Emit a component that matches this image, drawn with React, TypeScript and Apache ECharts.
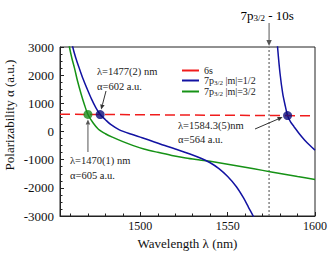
import React, { useEffect, useRef } from "react";
import * as echarts from "echarts";

// ---- data ----
const xMin = 1454;
const xMax = 1600;
const yMin = -3000;
const yMax = 3000;
const xLabelValues = [1500, 1550, 1600];
const xMinorTickValues = [1460, 1470, 1480, 1490, 1510, 1520, 1530, 1540, 1560, 1570, 1580, 1590];

const sixS: [number, number][] = [
  [1454, 612],
  [1600, 558],
];

const m12Left: [number, number][] = [
  [1459.5, 3600], [1461.3, 3000], [1463, 2620], [1465, 2250], [1467, 1900],
  [1469.5, 1520], [1472, 1160], [1474.5, 850], [1477, 602], [1480, 420],
  [1483, 250], [1488, 60], [1495, -100], [1501, -220], [1508, -370],
  [1514, -500], [1520, -620], [1528, -790], [1535, -960], [1540, -1110],
  [1545, -1320], [1550, -1600], [1555, -1960], [1559, -2350], [1562, -2700],
  [1565, -3050], [1566.5, -3300],
];

const m12Right: [number, number][] = [
  [1578, 3500], [1578.7, 2900], [1580, 2050], [1581.5, 1350], [1583, 900],
  [1584.3, 564], [1586, 340], [1588, 170], [1591, -80], [1594, -300],
  [1597, -490], [1600, -660],
];

const m32: [number, number][] = [
  [1457.8, 3600], [1459.4, 3000], [1460.8, 2600], [1462.3, 2250], [1464, 1800],
  [1466, 1350], [1468, 950], [1470, 605], [1473, 300], [1476, 80],
  [1480, -80], [1484, -200], [1490, -360], [1496, -500], [1502, -620],
  [1510, -740], [1518, -850], [1526, -940], [1534, -1010], [1540, -1060],
  [1550, -1160], [1560, -1270], [1570, -1380], [1580, -1490], [1590, -1600],
  [1600, -1703],
];

const crossGreen: [number, number] = [1470, 605];
const crossBlue1: [number, number] = [1477, 602];
const crossBlue2: [number, number] = [1584.3, 564];
const transitionLambda = 1573.7;

const NAME_6S = "6s";
const NAME_M12 = "m12";
const NAME_M32 = "m32";

const FONT = "Times New Roman, Liberation Serif, serif";
const RED = "#f01c1c";
const BLUE = "#1212a2";
const GREEN = "#169216";

const richSmall = {
  n: { fontSize: 10, lineHeight: 12, fontFamily: FONT, color: "#222" },
  s: { fontSize: 7, lineHeight: 6, verticalAlign: "bottom" as const, fontFamily: FONT, color: "#222" },
};
const richBig = {
  n: { fontSize: 13, lineHeight: 15, fontFamily: FONT, color: "#111" },
  s: { fontSize: 9, lineHeight: 7, verticalAlign: "bottom" as const, fontFamily: FONT, color: "#111" },
};

function arrow(x1: number, y1: number, x2: number, y2: number, color: string, head = 6) {
  const ang = Math.atan2(y2 - y1, x2 - x1);
  const bx = x2 - head * Math.cos(ang);
  const by = y2 - head * Math.sin(ang);
  const w = head * 0.45;
  const px = -Math.sin(ang) * w;
  const py = Math.cos(ang) * w;
  return [
    {
      type: "line",
      shape: { x1, y1, x2: bx, y2: by },
      style: { stroke: color, lineWidth: 1 },
      z: 100,
    },
    {
      type: "polygon",
      shape: { points: [[x2, y2], [bx + px, by + py], [bx - px, by - py]] },
      style: { fill: color },
      z: 100,
    },
  ];
}

function annoText(x: number, y: number, text: string, size = 10.5) {
  return {
    type: "text",
    x,
    y,
    z: 100,
    style: {
      text,
      fontFamily: FONT,
      fontSize: size,
      fill: "#222",
      align: "left",
      verticalAlign: "middle",
    },
  };
}

export default function App() {
  const ref = useRef<HTMLDivElement>(null);

  useEffect(() => {
    if (!ref.current) return;
    const chart = echarts.init(ref.current, undefined, { renderer: "svg" });

    const option: any = {
      animation: false,
      backgroundColor: "#fff",
      textStyle: { fontFamily: FONT },
      grid: {
        left: 60,
        right: 14,
        top: 47,
        bottom: 39,
        show: true,
        borderColor: "#222",
        borderWidth: 1,
        backgroundColor: "transparent",
      },
      legend: {
        orient: "vertical",
        left: 177,
        top: 60.5,
        itemWidth: 17,
        itemHeight: 2,
        itemGap: 0,
        icon: "rect",
        data: [NAME_6S, NAME_M12, NAME_M32],
        formatter: (name: string) => {
          if (name === NAME_6S) return "{n|6s}";
          if (name === NAME_M12) return "{n|7p}{s|3/2}{n| |m|=1/2}";
          return "{n|7p}{s|3/2}{n| |m|=3/2}";
        },
        textStyle: { fontFamily: FONT, fontSize: 10, rich: richSmall },
      },
      xAxis: [
        {
          type: "value",
          min: xMin,
          max: xMax,
          name: "Wavelength λ (nm)",
          nameLocation: "middle",
          nameGap: 20,
          nameTextStyle: { fontFamily: FONT, fontSize: 13, color: "#111" },
          axisLine: { show: true, onZero: false, lineStyle: { color: "#222", width: 1 } },
          axisTick: { show: true, inside: true, length: 4, customValues: xLabelValues, lineStyle: { color: "#222" } },
          axisLabel: {
            customValues: xLabelValues,
            margin: 4,
            fontFamily: FONT,
            fontSize: 12,
            color: "#111",
            formatter: (v: number) => String(v),
          },
          splitLine: { show: false },
        },
        {
          type: "value",
          min: xMin,
          max: xMax,
          position: "bottom",
          axisLine: { show: false, onZero: false },
          axisTick: { show: true, inside: true, length: 2.5, customValues: xMinorTickValues, lineStyle: { color: "#222" } },
          axisLabel: { show: false },
          splitLine: { show: false },
        },
      ],
      yAxis: {
        type: "value",
        min: yMin,
        max: yMax,
        interval: 1000,
        axisLine: { show: true, onZero: false, lineStyle: { color: "#222", width: 1 } },
        axisTick: { show: true, inside: true, length: 4, lineStyle: { color: "#222" } },
        minorTick: { show: true, splitNumber: 4, length: 2.5, lineStyle: { color: "#222" } },
        axisLabel: {
          margin: 6,
          fontFamily: FONT,
          fontSize: 13,
          color: "#111",
          formatter: (v: number) => String(v),
        },
        splitLine: { show: false },
      },
      series: [
        {
          name: "transition",
          type: "line",
          data: [[transitionLambda, yMin], [transitionLambda, yMax]],
          symbol: "none",
          lineStyle: { color: "#666", width: 1.2, type: [2, 2] },
          z: 1,
        },
        {
          name: NAME_M32,
          type: "line",
          data: m32,
          symbol: "none",
          smooth: 0.3,
          lineStyle: { color: GREEN, width: 1.5 },
          itemStyle: { color: GREEN },
          z: 2,
        },
        {
          name: NAME_M12,
          type: "line",
          data: m12Left,
          symbol: "none",
          smooth: 0.3,
          lineStyle: { color: BLUE, width: 1.5 },
          itemStyle: { color: BLUE },
          z: 3,
        },
        {
          name: NAME_M12,
          type: "line",
          data: m12Right,
          symbol: "none",
          smooth: 0.3,
          lineStyle: { color: BLUE, width: 1.5 },
          itemStyle: { color: BLUE },
          z: 3,
        },
        {
          name: NAME_6S,
          type: "line",
          data: sixS,
          symbol: "none",
          lineStyle: { color: RED, width: 1.5, type: [10, 5] },
          itemStyle: { color: RED },
          z: 4,
        },
        {
          name: "dotsGreen",
          type: "scatter",
          data: [crossGreen],
          symbolSize: 9,
          itemStyle: { color: "#1a8a1a" },
          z: 5,
        },
        {
          name: "dotsBlue",
          type: "scatter",
          data: [crossBlue1, crossBlue2],
          symbolSize: 9,
          itemStyle: { color: "#0c0c7c" },
          z: 5,
        },
      ],
    };
    chart.setOption(option);

    const px = (p: [number, number]) =>
      chart.convertToPixel({ xAxisIndex: 0, yAxisIndex: 0 }, p) as number[];
    const g = px(crossGreen);
    const b1 = px(crossBlue1);
    const b2 = px(crossBlue2);
    const top = px([transitionLambda, yMax]);

    const graphics: any[] = [
      {
        type: "text",
        x: 9,
        y: 115,
        rotation: Math.PI / 2,
        style: {
          text: "Polarizability α (a.u.)",
          fontFamily: FONT,
          fontSize: 13,
          fill: "#111",
          align: "center",
          verticalAlign: "middle",
        },
      },
      {
        type: "text",
        x: top[0] - 2,
        y: 15,
        style: {
          text: "{n|7p}{s|3/2}{n| - 10s}",
          rich: richBig,
          fontFamily: FONT,
          align: "center",
          verticalAlign: "middle",
        },
      },
      ...arrow(top[0], 23, top[0], top[1] - 1, "#555", 6),
      annoText(97, 71, "λ=1477(2) nm"),
      annoText(97, 86, "α=602 a.u."),
      ...arrow(106, 91, b1[0] + 1, b1[1] - 5, "#333", 5),
      annoText(70, 160, "λ=1470(1) nm"),
      annoText(70, 175, "α=605 a.u."),
      ...arrow(g[0], 152, g[0], g[1] + 5, "#555", 5),
      annoText(178, 125, "λ=1584.3(5)nm"),
      annoText(178, 139, "α=564 a.u."),
      ...arrow(255, 129, b2[0] - 5, b2[1] + 1.5, "#333", 5),
    ];
    chart.setOption({ graphic: graphics });

    return () => chart.dispose();
  }, []);

  return (
    <div
      ref={ref}
      style={{ position: "fixed", left: 0, top: 0, width: 330, height: 255, background: "#fff" }}
    />
  );
}
